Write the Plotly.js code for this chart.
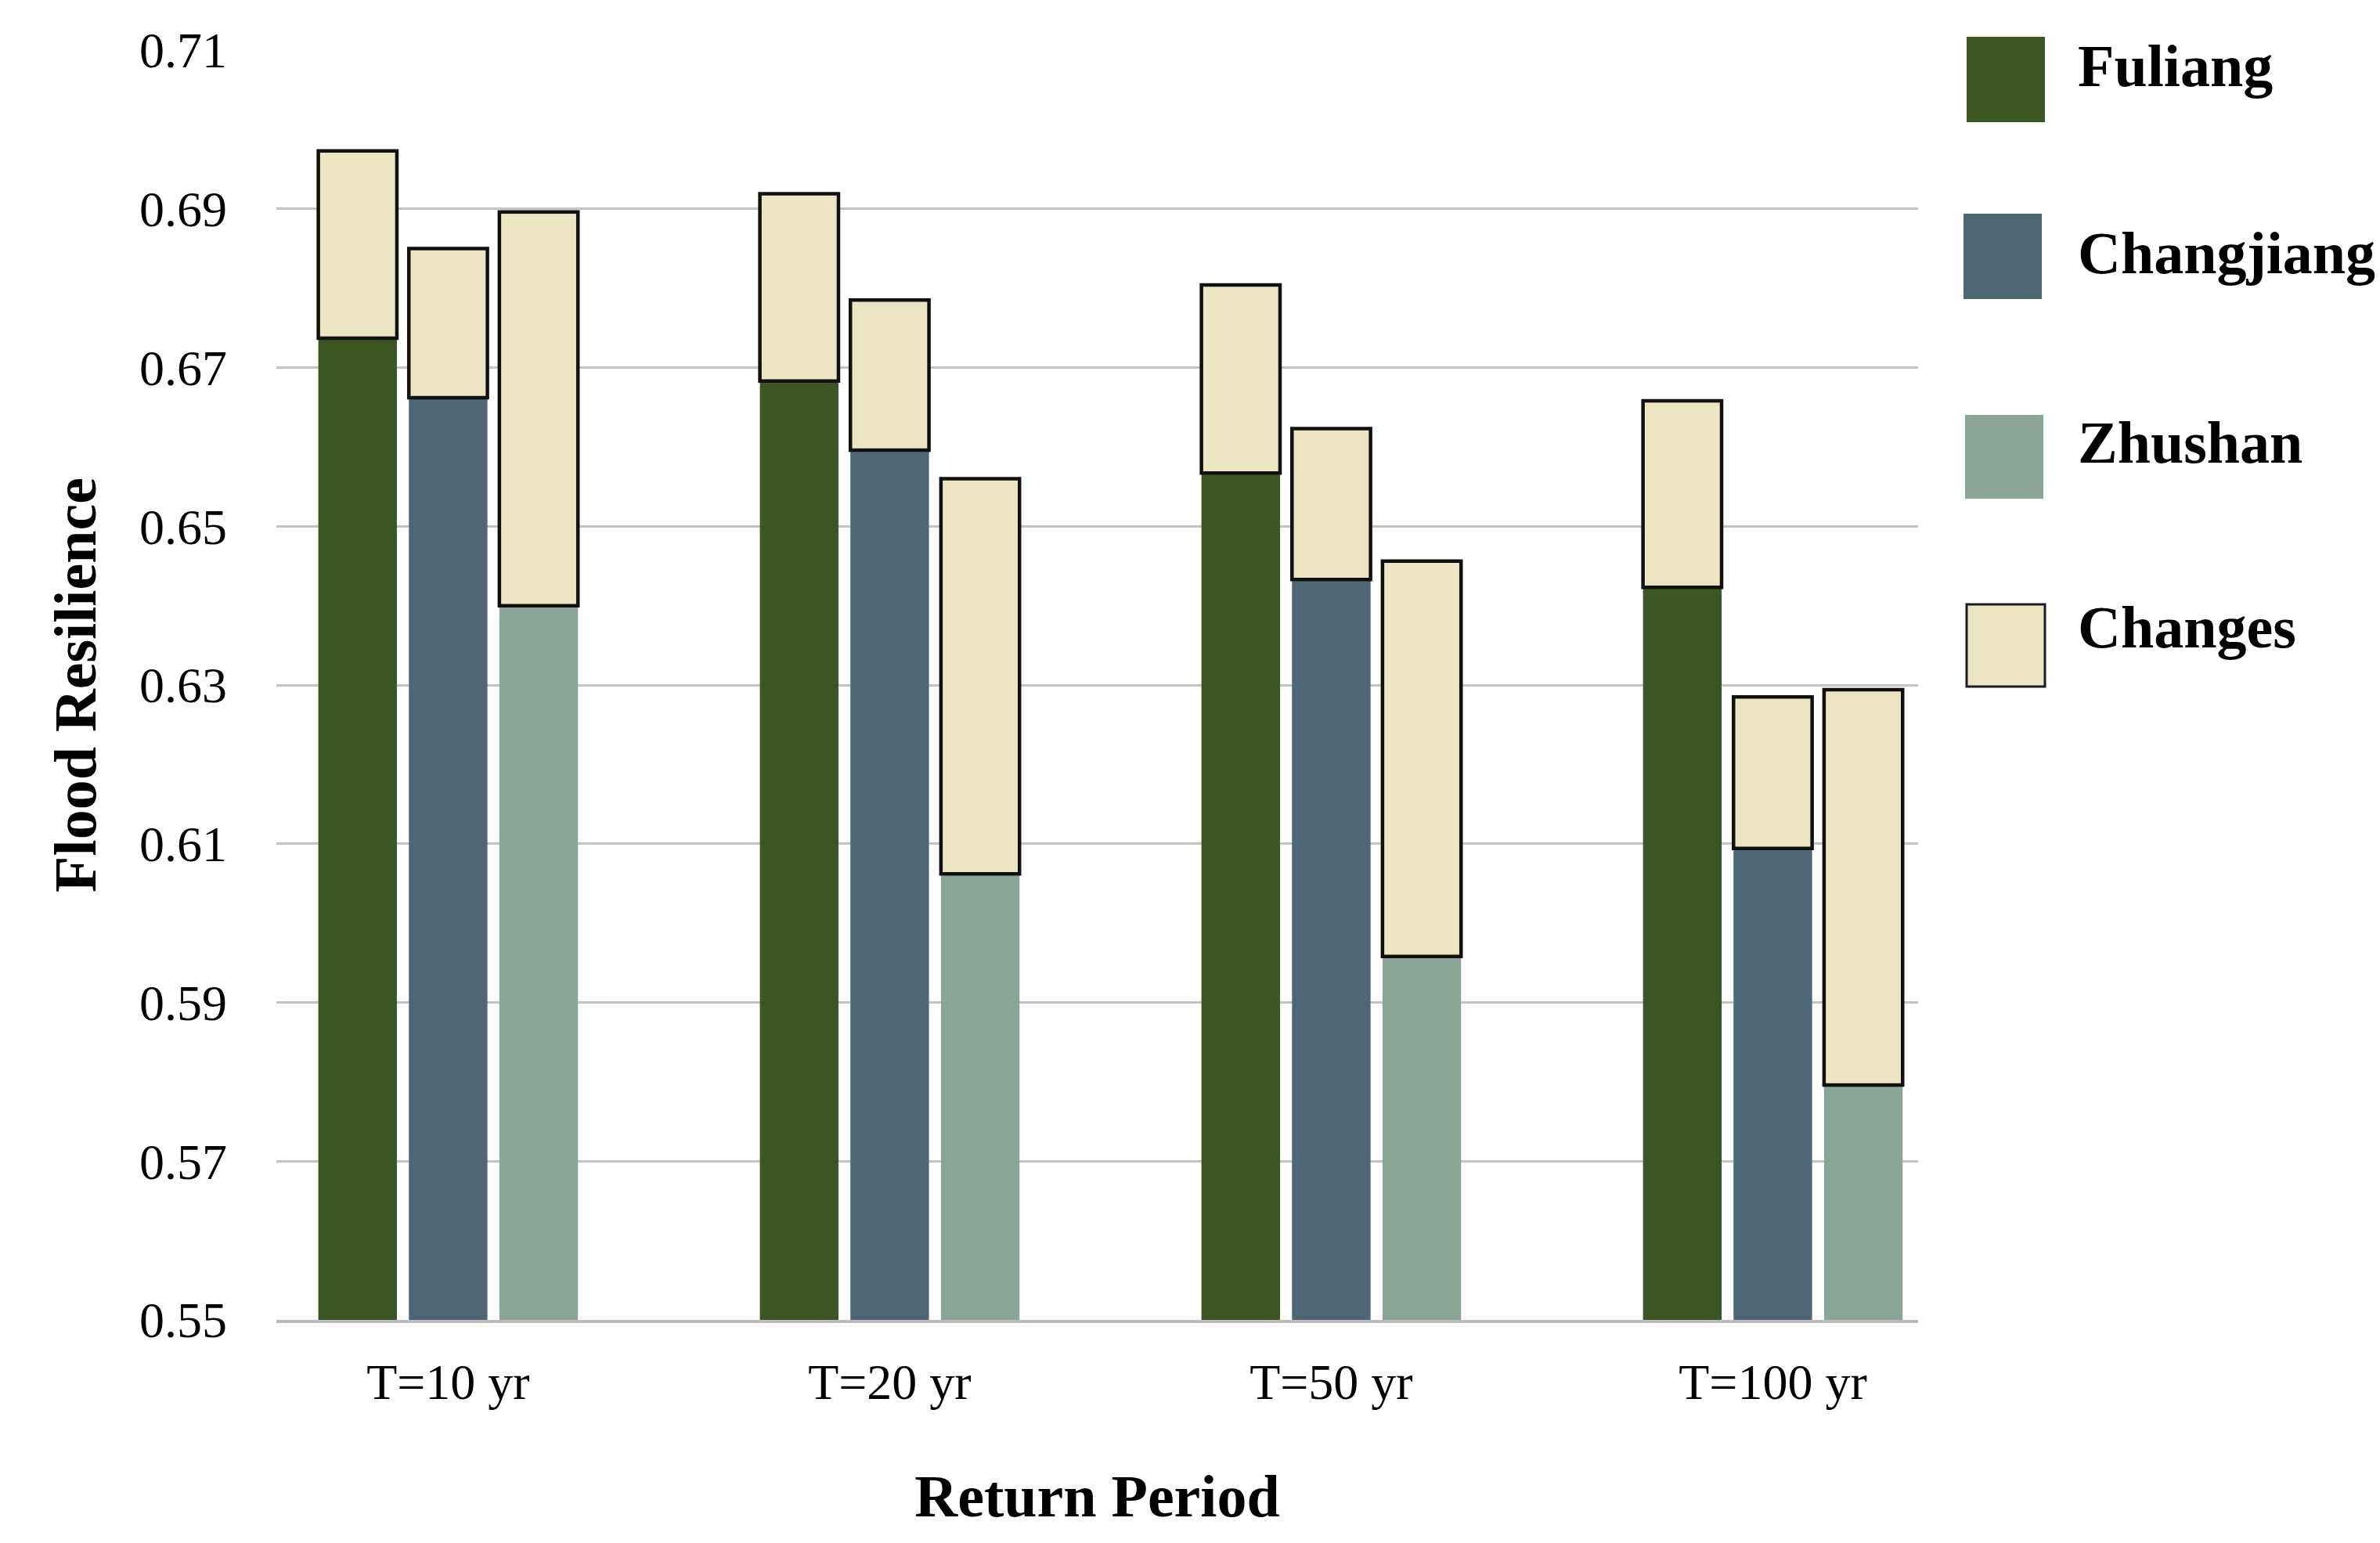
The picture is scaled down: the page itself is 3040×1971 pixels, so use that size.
<!DOCTYPE html>
<html>
<head>
<meta charset="utf-8">
<script src="https://cdn.plot.ly/plotly-3.0.1.min.js"></script>
<style>html,body{margin:0;padding:0;background:#fff;}#chart{width:3040px;height:1971px;}</style>
</head>
<body>
<div id="chart"></div>
<script>
// ---- data ----
const categories = ["T=10 yr", "T=20 yr", "T=50 yr", "T=100 yr"];
const fuliangBase   = [0.6737, 0.6683, 0.6567, 0.6423];
const fuliangTop    = [0.6973, 0.6919, 0.6804, 0.6658];
const changjiangBase = [0.6662, 0.6596, 0.6433, 0.6094];
const changjiangTop  = [0.6850, 0.6785, 0.6623, 0.6285];
const zhushanBase   = [0.6400, 0.6062, 0.5958, 0.5796];
const zhushanTop    = [0.6896, 0.6560, 0.6456, 0.6294];
const yTicks = [0.55, 0.57, 0.59, 0.61, 0.63, 0.65, 0.67, 0.69, 0.71];
const seriesNames = ["Fuliang", "Changjiang", "Zhushan", "Changes"];

// ---- styles ----
const colors = {Fuliang: "#3B5623", Changjiang: "#4E6873", Zhushan: "#8AA595", Changes: "#ECE5C1"};
const serif = "Liberation Serif, Times New Roman, serif";
const diff = (top, base) => top.map((v, i) => +(v - base[i]).toFixed(4));

function siteTrace(name, base, group) {
  return {type: "bar", name: name, x: categories, y: base, offsetgroup: group,
          marker: {color: colors[name], line: {width: 0}}, showlegend: false, hoverinfo: "x+y+name"};
}
function changeTrace(top, base, group) {
  return {type: "bar", name: "Changes", x: categories, y: diff(top, base), base: base, offsetgroup: group,
          marker: {color: colors.Changes, line: {color: "#111", width: 4.5}}, showlegend: false};
}

const traces = [
  siteTrace("Fuliang", fuliangBase, "F"),
  siteTrace("Changjiang", changjiangBase, "C"),
  siteTrace("Zhushan", zhushanBase, "Z"),
  changeTrace(fuliangTop, fuliangBase, "F"),
  changeTrace(changjiangTop, changjiangBase, "C"),
  changeTrace(zhushanTop, zhushanBase, "Z")
];

// plot area in px
const L = 353, R = 2450, T = 64, B = 1686, W = 3040, H = 1971;
const px = x => (x - L) / (R - L);
const py = y => (B - y) / (B - T);

// manual legend (pixel boxes: left, top, bottom; text centre y)
const legendBoxes = [[2512, 47, 156, 84], [2508, 273, 382, 323], [2510, 530, 637, 565], [2512, 772, 877, 801]];
const shapes = [], annotations = [];
seriesNames.forEach((n, i) => {
  const [x0, y0, y1, ty] = legendBoxes[i];
  shapes.push({type: "rect", xref: "paper", yref: "paper", x0: px(x0), x1: px(x0 + 100), y0: py(y1), y1: py(y0),
    fillcolor: colors[n], line: n === "Changes" ? {color: "#1a1a2a", width: 3} : {width: 0}});
  annotations.push({xref: "paper", yref: "paper", x: px(2652), y: py(ty), xanchor: "left", yanchor: "middle",
    text: "<b>" + n + "</b>", showarrow: false, font: {family: serif, size: 76, color: "#000"}});
});

const layout = {
  width: W, height: H,
  paper_bgcolor: "#fff", plot_bgcolor: "#fff",
  margin: {l: L, r: W - R, t: T, b: H - B},
  barmode: "group", bargap: 0.385, bargroupgap: 0.132,
  showlegend: false,
  font: {family: serif, color: "#000"},
  xaxis: {type: "category", range: [-0.389, 3.329], showgrid: false, zeroline: false,
    showline: true, linecolor: "#BDBDBD", linewidth: 4, layer: "below traces",
    ticks: "", ticklabelstandoff: 20, tickfont: {family: serif, size: 64, color: "#000"},
    title: {text: "<b>Return Period</b>", font: {family: serif, size: 76, color: "#000"}, standoff: 85}},
  yaxis: {range: [0.55, 0.71], tickvals: yTicks, ticktext: yTicks.map(v => v.toFixed(2)),
    showgrid: true, gridcolor: "#C4C4C4", gridwidth: 3, zeroline: false, showline: false,
    ticks: "", ticklabelstandoff: 62, tickfont: {family: serif, size: 64, color: "#000"},
    title: {text: "<b>Flood Resilience</b>", font: {family: serif, size: 76, color: "#000"}, standoff: 30}},
  shapes: shapes, annotations: annotations
};

Plotly.newPlot("chart", traces, layout, {displayModeBar: false, staticPlot: true});
</script>
</body>
</html>
